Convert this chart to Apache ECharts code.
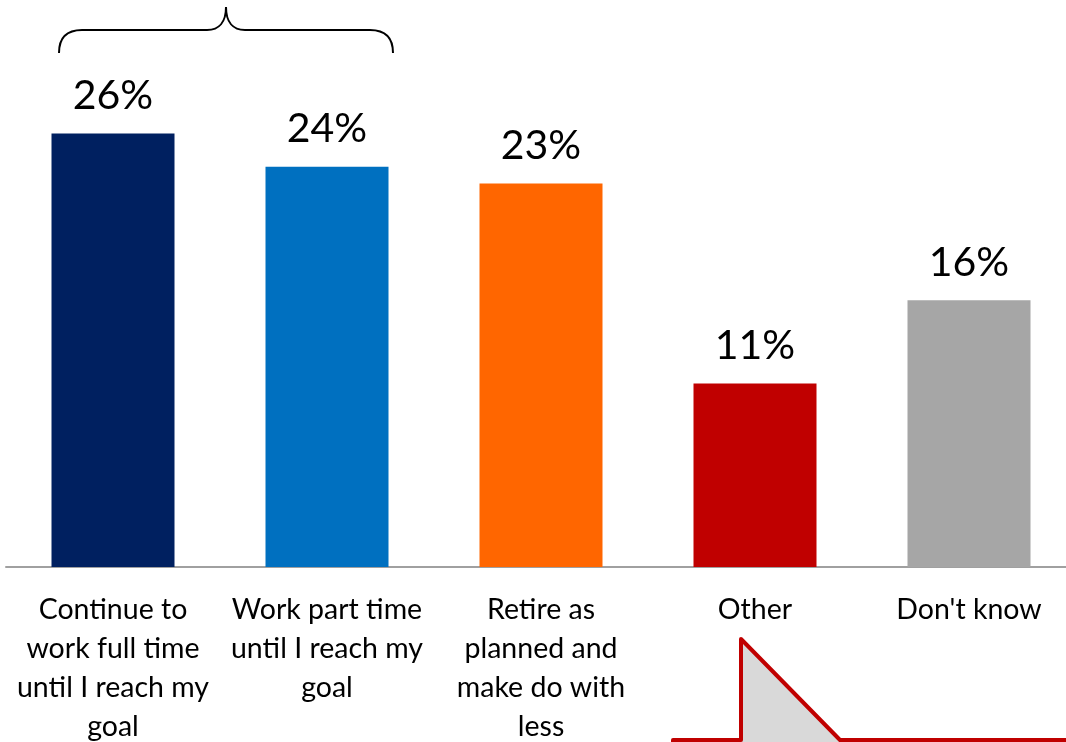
<!DOCTYPE html>
<html>
<head>
<meta charset="utf-8">
<style>
  html, body { margin: 0; padding: 0; background: #ffffff; }
  #chart { width: 1066px; height: 742px; }
</style>
<script src="https://cdn.jsdelivr.net/npm/echarts@6/dist/echarts.min.js"></script>
</head>
<body>
<div id="chart"></div>
<script>
// Survey answers: what people plan to do about a retirement savings shortfall
const categories = [
  'Continue to\nwork full time\nuntil I reach my\ngoal',
  'Work part time\nuntil I reach my\ngoal',
  'Retire as\nplanned and\nmake do with\nless',
  'Other',
  "Don't know"
];
const shares = [26, 24, 23, 11, 16];
const barColors = ['#002060', '#0070C0', '#FF6600', '#C00000', '#A6A6A6'];

const FONT = 'Lato, "Open Sans", sans-serif';

const chart = echarts.init(document.getElementById('chart'));

const braceStyle = { fill: null, stroke: '#000000', lineWidth: 2 };
const curve = (x1, y1, cpx1, cpy1, cpx2, cpy2, x2, y2) => ({
  type: 'bezierCurve',
  shape: { x1, y1, cpx1, cpy1, cpx2, cpy2, x2, y2 },
  style: braceStyle
});
const segment = (x1, y1, x2, y2) => ({
  type: 'line',
  shape: { x1, y1, x2, y2 },
  style: braceStyle
});

chart.setOption({
  animation: false,
  backgroundColor: '#ffffff',
  grid: {
    left: 6, width: 1070, top: 0, bottom: 175,
    containLabel: false,
    outerBoundsMode: 'none'
  },
  xAxis: {
    type: 'category',
    data: categories,
    axisLine: { show: true, lineStyle: { color: '#a0a0a0', width: 2 } },
    axisTick: { show: false },
    axisLabel: {
      color: '#000000',
      fontFamily: FONT,
      fontSize: 28.5,
      lineHeight: 39,
      margin: 23,
      interval: 0,
      verticalAlign: 'top'
    }
  },
  yAxis: {
    type: 'value',
    min: 0,
    max: 34,
    show: false,
    splitLine: { show: false }
  },
  series: [{
    type: 'bar',
    data: shares.map((v, i) => ({ value: v, itemStyle: { color: barColors[i] } })),
    barWidth: 123,
    label: {
      show: true,
      position: 'top',
      distance: 17,
      formatter: '{c}%',
      color: '#000000',
      fontFamily: FONT,
      fontSize: 41
    }
  }],
  graphic: [
    {
      // curly brace grouping the two "keep working" answers
      type: 'group',
      children: [
        curve(59, 53, 59, 38, 66, 30, 82, 30),
        segment(82, 30, 207, 30),
        curve(207, 30, 219, 30, 226, 22, 226, 7),
        curve(226, 7, 226, 22, 233, 30, 245, 30),
        segment(245, 30, 370, 30),
        curve(370, 30, 386, 30, 393, 38, 393, 53)
      ]
    },
    {
      // pointer of a callout box whose body lies below the chart
      type: 'polygon',
      shape: {
        points: [[673, 740], [741, 740], [741, 639], [840, 740], [1075, 740], [1075, 770], [673, 770]]
      },
      style: { fill: '#d9d9d9', stroke: '#C00000', lineWidth: 4, lineJoin: 'round' }
    }
  ]
});
</script>
</body>
</html>
